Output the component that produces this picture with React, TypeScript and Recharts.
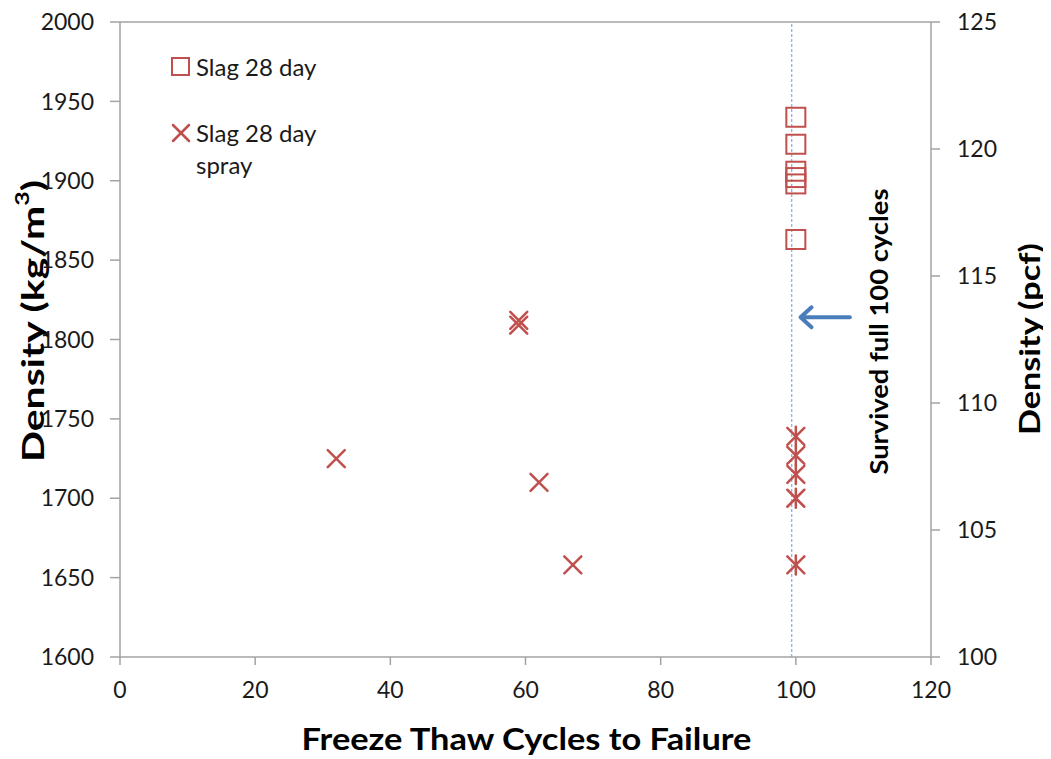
import React from "react";
import {
  ScatterChart,
  Scatter,
  XAxis,
  YAxis,
  ReferenceLine,
  ReferenceDot,
  Legend,
  Label,
} from "recharts";

// Slag 28 day (squares) - all survived 100 cycles
const slagX = [100, 100, 100, 100, 100, 100];
const slagY = [1940, 1923, 1906, 1902, 1898, 1863];

// Slag 28 day spray (crosses)
const sprayX = [32, 59, 59, 62, 67, 100, 100, 100, 100, 100];
const sprayY = [1725, 1812, 1809, 1710, 1658, 1739, 1727, 1715, 1700, 1658];

const xTicks = [0, 20, 40, 60, 80, 100, 120];
const leftTicks = [1600, 1650, 1700, 1750, 1800, 1850, 1900, 1950, 2000];
const rightTicks = [100, 105, 110, 115, 120, 125];

const KG_PER_PCF = 16.0185;

const RED = "#c0504d";
const AXIS = "#a3a3a3";
const FONT = "Lato, 'Open Sans', sans-serif";

const slagData = slagX.map((x, i) => ({ x, y: slagY[i] }));
const sprayData = sprayX.map((x, i) => ({ x, y: sprayY[i] }));
// same points in pcf, only so the right axis has something bound to it
const pcfData = slagX.map((x, i) => ({ x, pcf: slagY[i] / KG_PER_PCF }));

function SquareShape(props: any) {
  const { cx, cy } = props;
  return <rect x={cx - 9.5} y={cy - 9.5} width={19} height={19} fill="none" stroke={RED} strokeWidth={2} />;
}

function CrossShape(props: any) {
  const { cx, cy, payload } = props;
  const s = 8.5;
  return (
    <g stroke={RED} strokeWidth={2.5} strokeLinecap="round">
      <line x1={cx - s} y1={cy - s} x2={cx + s} y2={cy + s} />
      <line x1={cx - s} y1={cy + s} x2={cx + s} y2={cy - s} />
      {payload && payload.x === 100 && <line x1={cx} y1={cy - s - 1} x2={cx} y2={cy + s + 1} />}
    </g>
  );
}

function ArrowShape(props: any) {
  const { x1, y1, x2, y2 } = props;
  return (
    <path
      d={`M${x1},${y1} L${x2},${y2} M${x2 + 11},${y2 - 10} L${x2},${y2} L${x2 + 11},${y2 + 10}`}
      fill="none"
      stroke="#4a7ebb"
      strokeWidth={4}
      strokeLinecap="round"
      strokeLinejoin="round"
    />
  );
}

function NoteShape(props: any) {
  const { cx, cy } = props;
  return (
    <text
      x={cx}
      y={cy}
      transform={`rotate(-90, ${cx}, ${cy})`}
      textAnchor="middle"
      dominantBaseline="central"
      fontFamily={FONT}
      fontWeight={700}
      fontSize={24}
      textLength={286}
      lengthAdjust="spacingAndGlyphs"
      fill="#000"
    >
      Survived full 100 cycles
    </text>
  );
}

function LegendBox() {
  const txt: React.CSSProperties = {
    position: "absolute",
    left: 26,
    height: 30,
    lineHeight: "30px",
    whiteSpace: "nowrap",
    fontFamily: FONT,
    fontSize: 24,
    color: "#1a1a1a",
  };
  return (
    <div style={{ position: "relative", width: 180, height: 130 }}>
      <svg style={{ position: "absolute", left: 0, top: 4 }} width={22} height={22}>
        <rect x={2} y={2} width={17} height={17} fill="none" stroke={RED} strokeWidth={2} />
      </svg>
      <div style={{ ...txt, top: 0 }}>Slag 28 day</div>
      <svg style={{ position: "absolute", left: 0, top: 70 }} width={22} height={22}>
        <g stroke={RED} strokeWidth={2.5} strokeLinecap="round">
          <line x1={3} y1={3} x2={19} y2={19} />
          <line x1={3} y1={19} x2={19} y2={3} />
        </g>
      </svg>
      <div style={{ ...txt, top: 66 }}>Slag 28 day</div>
      <div style={{ ...txt, top: 98 }}>spray</div>
    </div>
  );
}

const tickStyle = { fontFamily: FONT, fontSize: 23, fill: "#1a1a1a" };

export default function App() {
  return (
    <ScatterChart width={1043} height={751} margin={{ top: 14, right: 0, bottom: 0, left: 0 }}>
      <XAxis
        type="number"
        dataKey="x"
        domain={[0, 120]}
        ticks={xTicks}
        interval={0}
        height={102}
        stroke={AXIS}
        strokeWidth={1.5}
        tickSize={8}
        tickMargin={17}
        tick={tickStyle}
      >
        <Label
          content={(p: any) => {
            const vb = p.viewBox;
            return (
              <text
                x={vb.x + vb.width / 2 + 1}
                y={vb.y + 81}
                textAnchor="middle"
                dominantBaseline="central"
                fontFamily={FONT}
                fontWeight={700}
                fontSize={30}
                textLength={450}
                lengthAdjust="spacingAndGlyphs"
                fill="#000"
              >
                Freeze Thaw Cycles to Failure
              </text>
            );
          }}
        />
      </XAxis>
      <YAxis
        yAxisId="left"
        type="number"
        dataKey="y"
        domain={[1600, 2000]}
        ticks={leftTicks}
        interval={0}
        width={112}
        stroke={AXIS}
        strokeWidth={1.5}
        tickSize={10}
        tickMargin={16}
        tick={tickStyle}
      >
        <Label
          content={() => (
            <g transform="translate(24, 313) rotate(-90)">
              <text
                x={0}
                y={0}
                textAnchor="middle"
                dominantBaseline="central"
                fontFamily={FONT}
                fontWeight={700}
                fontSize={31}
                textLength={282}
                lengthAdjust="spacingAndGlyphs"
                fill="#000"
              >
                Density (kg/m
                <tspan dy={-11} fontSize={19}>3</tspan>
                <tspan dy={11}>)</tspan>
              </text>
            </g>
          )}
        />
      </YAxis>
      <YAxis
        yAxisId="right"
        orientation="right"
        type="number"
        dataKey="pcf"
        domain={[100, 125]}
        ticks={rightTicks}
        interval={0}
        width={120}
        stroke={AXIS}
        strokeWidth={1.5}
        tickSize={9}
        tickMargin={17}
        tick={tickStyle}
      >
        <Label
          content={(p: any) => {
            const vb = p.viewBox;
            const cx = vb.x + 97;
            const cy = 331;
            return (
              <text
                x={cx}
                y={cy}
                transform={`rotate(-90, ${cx}, ${cy})`}
                textAnchor="middle"
                dominantBaseline="central"
                fontFamily={FONT}
                fontWeight={700}
                fontSize={29}
                textLength={192}
                lengthAdjust="spacingAndGlyphs"
                fill="#000"
              >
                Density (pcf)
              </text>
            );
          }}
        />
      </YAxis>

      <ReferenceLine yAxisId="left" y={2000} stroke={AXIS} strokeWidth={1.5} />
      <ReferenceLine yAxisId="left" x={99.4} stroke="#6a9ad8" strokeWidth={1} strokeDasharray="3 2" />
      <ReferenceLine
        yAxisId="left"
        segment={[
          { x: 108, y: 1814 },
          { x: 100.7, y: 1814 },
        ]}
        shape={ArrowShape}
      />
      <ReferenceDot yAxisId="left" x={112.3} y={1805} r={0} shape={NoteShape} />

      <Scatter
        yAxisId="right"
        data={pcfData}
        shape={() => null}
        isAnimationActive={false}
        legendType="none"
      />
      <Scatter
        yAxisId="left"
        name="Slag 28 day"
        data={slagData}
        shape={SquareShape}
        isAnimationActive={false}
      />
      <Scatter
        yAxisId="left"
        name="Slag 28 day spray"
        data={sprayData}
        shape={CrossShape}
        isAnimationActive={false}
      />

      <Legend
        layout="horizontal"
        verticalAlign="middle"
        align="center"
        wrapperStyle={{ left: 162, top: 44, width: 180 }}
        content={() => <LegendBox />}
      />
    </ScatterChart>
  );
}
